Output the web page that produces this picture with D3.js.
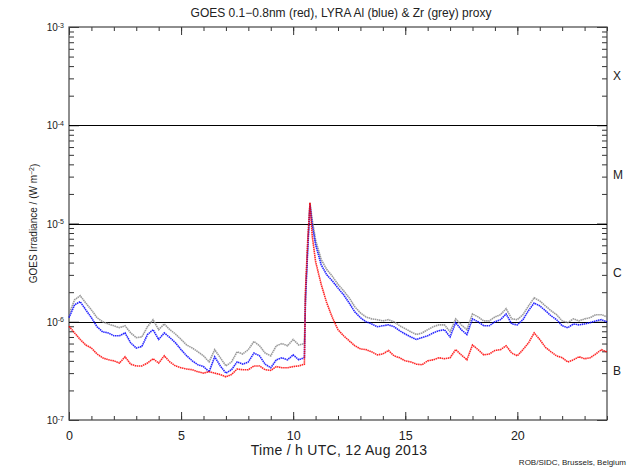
<!DOCTYPE html>
<html>
<head>
<meta charset="utf-8">
<script src="https://cdn.jsdelivr.net/npm/d3@7"></script>
<style>
  body { margin: 0; background: #fff; }
  svg text { font-family: "Liberation Sans", "DejaVu Sans", sans-serif; fill: #222; }
</style>
</head>
<body>
<svg id="chart" width="635" height="471"></svg>
<script>
// time in hours UTC, 12 Aug 2013
var hours = [0, 0.25, 0.5, 0.75, 1, 1.25, 1.5, 1.75, 2, 2.25, 2.5, 2.75, 3, 3.25, 3.5, 3.75,
    4, 4.25, 4.5, 4.75, 5, 5.25, 5.5, 5.75, 6, 6.25, 6.5, 6.75, 7, 7.25, 7.5, 7.75,
    8, 8.25, 8.5, 8.75, 9, 9.25, 9.5, 9.75, 10, 10.25, 10.5, 10.55, 10.65, 10.75, 10.85,
    11, 11.25, 11.5, 11.75, 12, 12.25, 12.5, 12.75, 13, 13.25, 13.5, 13.75, 14, 14.25, 14.5, 14.75,
    15, 15.25, 15.5, 15.75, 16, 16.25, 16.5, 16.75, 17, 17.25, 17.5, 17.75, 18, 18.25, 18.5, 18.75,
    19, 19.25, 19.5, 19.75, 20, 20.25, 20.5, 20.75, 21, 21.25, 21.5, 21.75, 22, 22.25, 22.5, 22.75,
    23, 23.25, 23.5, 23.75, 24];

// GOES 0.1-0.8nm (red), W m^-2
var goes = [9.0e-7, 7.7e-7, 6.6e-7, 5.8e-7, 5.4e-7, 4.7e-7, 4.3e-7, 4.1e-7, 4.0e-7, 3.8e-7, 4.4e-7, 3.7e-7, 3.55e-7, 3.55e-7, 3.8e-7, 4.2e-7,
    3.8e-7, 4.5e-7, 3.9e-7, 3.55e-7, 3.4e-7, 3.3e-7, 3.25e-7, 3.1e-7, 3.0e-7, 3.1e-7, 3.0e-7, 2.9e-7, 2.75e-7, 2.9e-7, 3.3e-7, 3.25e-7,
    3.25e-7, 3.55e-7, 3.55e-7, 3.25e-7, 3.2e-7, 3.5e-7, 3.4e-7, 3.4e-7, 3.5e-7, 3.55e-7, 3.7e-7, 2.1e-6, 6.8e-6, 1.62e-5, 7.5e-6,
    4.1e-6, 2.4e-6, 1.55e-6, 1.1e-6, 8.3e-7, 7.2e-7, 6.4e-7, 5.7e-7, 5.3e-7, 5.2e-7, 4.95e-7, 4.6e-7, 4.7e-7, 5.1e-7, 4.5e-7, 4.3e-7,
    4.0e-7, 3.9e-7, 3.7e-7, 3.65e-7, 4.0e-7, 4.1e-7, 4.3e-7, 4.2e-7, 4.3e-7, 5.2e-7, 4.6e-7, 4.1e-7, 5.8e-7, 5.2e-7, 4.6e-7, 4.7e-7,
    5.1e-7, 5.2e-7, 5.7e-7, 4.8e-7, 4.5e-7, 5.2e-7, 6.1e-7, 7.7e-7, 6.6e-7, 5.5e-7, 4.95e-7, 4.5e-7, 4.3e-7, 3.9e-7, 4.1e-7, 4.4e-7,
    4.2e-7, 4.3e-7, 4.7e-7, 5.2e-7, 4.95e-7];

// LYRA Al proxy (blue)
var lyraAl = [1.1e-6, 1.49e-6, 1.6e-6, 1.32e-6, 1.1e-6, 8.9e-7, 7.9e-7, 7.7e-7, 7.2e-7, 7.2e-7, 7.7e-7, 6.1e-7, 5.4e-7, 5.6e-7, 7.4e-7, 8.3e-7,
    6.6e-7, 7.7e-7, 6.9e-7, 6.1e-7, 5.2e-7, 4.5e-7, 4.0e-7, 3.65e-7, 3.5e-7, 3.1e-7, 4.4e-7, 3.55e-7, 3.0e-7, 3.25e-7, 3.9e-7, 3.7e-7,
    3.9e-7, 4.8e-7, 4.5e-7, 3.7e-7, 3.4e-7, 4.1e-7, 4.3e-7, 4.1e-7, 4.6e-7, 4.1e-7, 4.3e-7, 1.67e-6, 5.4e-6, 1.55e-5, 9.7e-6,
    6.1e-6, 3.8e-6, 3.0e-6, 2.6e-6, 2.2e-6, 1.88e-6, 1.55e-6, 1.26e-6, 1.1e-6, 1.0e-6, 9.5e-7, 8.9e-7, 9.1e-7, 9.3e-7, 8.9e-7, 8.1e-7,
    7.5e-7, 7.0e-7, 6.6e-7, 6.9e-7, 7.2e-7, 7.7e-7, 8.1e-7, 8.3e-7, 7.0e-7, 9.8e-7, 8.3e-7, 7.4e-7, 1.07e-6, 1.0e-6, 9.1e-7, 9.1e-7,
    1.0e-6, 1.05e-6, 1.2e-6, 9.5e-7, 9.3e-7, 1.05e-6, 1.3e-6, 1.55e-6, 1.45e-6, 1.3e-6, 1.15e-6, 1.05e-6, 9.1e-7, 8.7e-7, 9.5e-7, 9.3e-7,
    9.5e-7, 9.8e-7, 1.02e-6, 1.05e-6, 1.0e-6];

// LYRA Zr proxy (grey)
var lyraZr = [1.2e-6, 1.67e-6, 1.84e-6, 1.55e-6, 1.32e-6, 1.1e-6, 1.0e-6, 9.5e-7, 9.1e-7, 8.7e-7, 9.1e-7, 7.7e-7, 6.9e-7, 7.0e-7, 8.9e-7, 1.05e-6,
    8.3e-7, 9.5e-7, 8.3e-7, 7.5e-7, 6.6e-7, 5.8e-7, 5.4e-7, 4.95e-7, 4.5e-7, 3.9e-7, 5.2e-7, 4.3e-7, 3.55e-7, 3.9e-7, 4.95e-7, 4.7e-7,
    5.2e-7, 6.3e-7, 5.7e-7, 4.8e-7, 4.5e-7, 5.7e-7, 6.0e-7, 5.7e-7, 6.6e-7, 5.8e-7, 6.0e-7, 1.88e-6, 6.1e-6, 1.62e-5, 1.09e-5,
    6.8e-6, 4.3e-6, 3.4e-6, 2.9e-6, 2.4e-6, 2.07e-6, 1.75e-6, 1.42e-6, 1.23e-6, 1.12e-6, 1.07e-6, 1.05e-6, 1.02e-6, 1.05e-6, 1.0e-6, 9.1e-7,
    8.5e-7, 7.9e-7, 7.4e-7, 7.7e-7, 8.3e-7, 8.9e-7, 9.3e-7, 9.3e-7, 7.9e-7, 1.07e-6, 9.3e-7, 8.3e-7, 1.2e-6, 1.12e-6, 1.02e-6, 1.02e-6,
    1.12e-6, 1.18e-6, 1.36e-6, 1.07e-6, 1.05e-6, 1.18e-6, 1.45e-6, 1.75e-6, 1.63e-6, 1.45e-6, 1.3e-6, 1.18e-6, 1.02e-6, 9.8e-7, 1.07e-6, 1.02e-6,
    1.07e-6, 1.1e-6, 1.18e-6, 1.18e-6, 1.12e-6];

var xMajorTicks = [0, 5, 10, 15, 20];
var decades = [1e-7, 1e-6, 1e-5, 1e-4, 1e-3];
var decadeExponents = ['-7', '-6', '-5', '-4', '-3'];
var flareClasses = ['B', 'C', 'M', 'X'];
var thresholdLines = [1e-6, 1e-5, 1e-4];

var plotLeft = 69, plotRight = 607, plotTop = 27, plotBottom = 420;
var svg = d3.select('#chart');

var x = d3.scaleLinear().domain([0, 24]).range([plotLeft, plotRight]);
var y = d3.scaleLog().domain([1e-7, 1e-3]).range([plotBottom, plotTop]);

// minor log ticks 2..9 per decade
var yMinor = [];
decades.slice(0, 4).forEach(function (d) {
    for (var k = 2; k <= 9; k++) { yMinor.push(d * k); }
});
var xMinor = d3.range(0, 25);

function clean(g) {
    g.select('.domain').remove();
    g.selectAll('line').attr('stroke', '#333');
}

// bottom axis
svg.append('g').attr('transform', 'translate(0,' + plotBottom + ')')
    .call(d3.axisBottom(x).tickValues(xMinor).tickSize(-4).tickFormat(''))
    .call(clean);
svg.append('g').attr('transform', 'translate(0,' + plotBottom + ')')
    .call(d3.axisBottom(x).tickValues(xMajorTicks).tickSize(-8).tickPadding(11).tickFormat(d3.format('d')))
    .call(clean)
    .selectAll('text').style('font-size', '12.5px').attr('fill', '#222');
// top axis
svg.append('g').attr('transform', 'translate(0,' + plotTop + ')')
    .call(d3.axisTop(x).tickValues(xMinor).tickSize(-4).tickFormat(''))
    .call(clean);
svg.append('g').attr('transform', 'translate(0,' + plotTop + ')')
    .call(d3.axisTop(x).tickValues(xMajorTicks).tickSize(-8).tickFormat(''))
    .call(clean);

// left axis
svg.append('g').attr('transform', 'translate(' + plotLeft + ',0)')
    .call(d3.axisLeft(y).tickValues(yMinor).tickSize(-5).tickFormat(''))
    .call(clean);
var yl = svg.append('g').attr('transform', 'translate(' + plotLeft + ',0)')
    .call(d3.axisLeft(y).tickValues(decades).tickSize(-10).tickFormat(''))
    .call(clean);
yl.selectAll('.tick').append('text')
    .attr('x', -5).attr('dy', '0.35em').attr('text-anchor', 'end')
    .style('font-size', '10px')
    .each(function (d, i) {
        var t = d3.select(this);
        t.append('tspan').text('10');
        t.append('tspan').attr('dy', '-0.5em').style('font-size', '7px').text(decadeExponents[i]);
    });

// right axis
svg.append('g').attr('transform', 'translate(' + plotRight + ',0)')
    .call(d3.axisRight(y).tickValues(yMinor).tickSize(-5).tickFormat(''))
    .call(clean);
svg.append('g').attr('transform', 'translate(' + plotRight + ',0)')
    .call(d3.axisRight(y).tickValues(decades).tickSize(-10).tickFormat(''))
    .call(clean);
svg.selectAll('.flare-class').data(flareClasses).enter().append('text')
    .attr('x', plotRight + 6)
    .attr('y', function (d, i) { return y(Math.sqrt(decades[i] * decades[i + 1])); })
    .attr('dy', '0.35em')
    .style('font-size', '12px')
    .text(function (d) { return d; });

// frame
svg.append('rect')
    .attr('x', plotLeft).attr('y', plotTop)
    .attr('width', plotRight - plotLeft).attr('height', plotBottom - plotTop)
    .attr('fill', 'none').attr('stroke', '#444').attr('stroke-width', 1.2);

// flare class threshold lines
svg.selectAll('.thr').data(thresholdLines).enter().append('line')
    .attr('x1', plotLeft).attr('x2', plotRight)
    .attr('y1', function (d) { return Math.round(y(d)) + 0.5; })
    .attr('y2', function (d) { return Math.round(y(d)) + 0.5; })
    .attr('stroke', '#000').attr('stroke-width', 1.2);

// series, drawn as dense dots like the original
var series = [
    { values: lyraZr, color: '#888888' },
    { values: lyraAl, color: '#0000ff' },
    { values: goes, color: '#ff0000' }
];
var line = d3.line()
    .x(function (d, i) { return x(hours[i]); })
    .y(function (d) { return y(d); });
series.forEach(function (s) {
    svg.append('path')
        .datum(s.values)
        .attr('d', line)
        .attr('fill', 'none')
        .attr('stroke', s.color)
        .attr('stroke-width', 1.6)
        .attr('stroke-dasharray', '1.5,0.6')
        .attr('opacity', 0.85);
});

// titles
svg.append('text')
    .attr('x', (plotLeft + plotRight) / 2 + 3).attr('y', 17)
    .attr('text-anchor', 'middle')
    .style('font-size', '12px')
    .text('GOES 0.1\u22120.8nm (red), LYRA Al (blue) & Zr (grey) proxy');

svg.append('text')
    .attr('x', (plotLeft + plotRight) / 2 + 1).attr('y', 455)
    .attr('text-anchor', 'middle')
    .style('font-size', '14px')
    .style('letter-spacing', '0.3px')
    .text('Time / h UTC, 12 Aug 2013');

var yt = svg.append('text')
    .attr('transform', 'translate(37,' + ((plotTop + plotBottom) / 2) + ') rotate(-90)')
    .attr('text-anchor', 'middle')
    .style('font-size', '10px');
yt.append('tspan').text('GOES Irradiance / (W m');
yt.append('tspan').attr('dy', '-0.45em').style('font-size', '7px').text('\u22122');
yt.append('tspan').attr('dy', '0.45em').text(')');

svg.append('text')
    .attr('x', 626).attr('y', 465)
    .attr('text-anchor', 'end')
    .style('font-size', '8px')
    .text('ROB/SIDC, Brussels, Belgium');
</script>
</body>
</html>
